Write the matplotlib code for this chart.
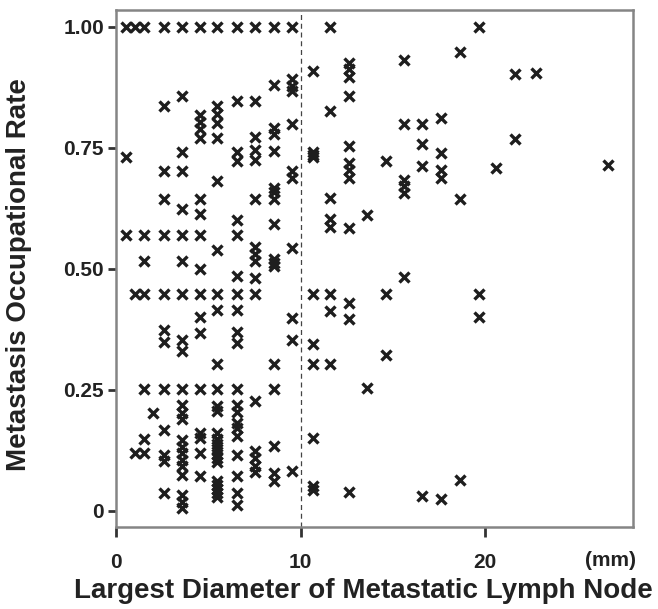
import numpy as np
import matplotlib
matplotlib.use("Agg")
import matplotlib.pyplot as plt
import matplotlib.transforms as mtransforms

plt.rcParams['font.family'] = ['Liberation Sans', 'DejaVu Sans']

# largest diameter (mm) of each column of points, and the rates read in that column
col_x = [0.55, 1.05, 1.5, 2.0, 2.6, 3.6, 4.55, 5.5, 6.55, 7.55, 8.55, 9.55,
         10.65, 11.6, 12.6, 13.6, 14.65, 15.6, 16.6, 17.6, 18.65, 19.65,
         20.6, 21.6, 22.75, 26.65]
col_rates = [
    [1.00, 0.731, 0.569],
    [1.00, 0.448, 0.119],
    [1.00, 0.569, 0.517, 0.448, 0.251, 0.148, 0.119],
    [0.203],
    [1.00, 0.836, 0.702, 0.645, 0.569, 0.448, 0.373, 0.348, 0.251, 0.167, 0.116, 0.102, 0.036],
    [1.00, 0.857, 0.742, 0.702, 0.623, 0.569, 0.517, 0.448, 0.352, 0.331, 0.251, 0.219,
     0.202, 0.189, 0.147, 0.132, 0.119, 0.105, 0.092, 0.074, 0.033, 0.019, 0.006],
    [1.00, 0.818, 0.803, 0.789, 0.771, 0.645, 0.614, 0.569, 0.500, 0.448, 0.400, 0.368,
     0.251, 0.160, 0.151, 0.119, 0.071],
    [1.00, 0.836, 0.819, 0.802, 0.771, 0.681, 0.538, 0.448, 0.414, 0.303, 0.251, 0.217,
     0.207, 0.161, 0.148, 0.137, 0.127, 0.118, 0.109, 0.101, 0.062, 0.053, 0.045, 0.037, 0.029],
    [1.00, 0.847, 0.742, 0.722, 0.600, 0.570, 0.486, 0.448, 0.414, 0.369, 0.347, 0.251,
     0.219, 0.205, 0.181, 0.171, 0.154, 0.116, 0.071, 0.036, 0.012],
    [1.00, 0.847, 0.772, 0.745, 0.724, 0.645, 0.545, 0.531, 0.515, 0.481, 0.448, 0.226,
     0.123, 0.109, 0.092, 0.081],
    [1.00, 0.880, 0.791, 0.778, 0.743, 0.667, 0.658, 0.645, 0.593, 0.520, 0.512, 0.505,
     0.303, 0.251, 0.133, 0.078, 0.061],
    [1.00, 0.892, 0.878, 0.867, 0.800, 0.702, 0.688, 0.543, 0.398, 0.352, 0.083],
    [0.909, 0.742, 0.735, 0.730, 0.448, 0.345, 0.303, 0.150, 0.052, 0.042],
    [1.00, 0.826, 0.646, 0.603, 0.586, 0.448, 0.412, 0.303],
    [0.926, 0.912, 0.897, 0.857, 0.753, 0.718, 0.703, 0.688, 0.584, 0.430, 0.397, 0.038],
    [0.610, 0.253],
    [0.722, 0.448, 0.321],
    [0.931, 0.800, 0.684, 0.671, 0.657, 0.483],
    [0.800, 0.757, 0.712, 0.030],
    [0.812, 0.740, 0.705, 0.688, 0.024],
    [0.947, 0.645, 0.064],
    [1.00, 0.448, 0.400],
    [0.709],
    [0.903, 0.767],
    [0.905],
    [0.715],
]

x_ticks = [0, 10, 20]
y_ticks = [0, 0.25, 0.50, 0.75, 1.00]
y_tick_labels = ["0", "0.25", "0.50", "0.75", "1.00"]
cutoff_mm = 10

xs = np.repeat(col_x, [len(r) for r in col_rates])
ys = np.concatenate([np.array(r) for r in col_rates])

fig = plt.figure(figsize=(6.58, 6.09), dpi=100)
ax = fig.add_axes([0.176, 0.135, 0.786, 0.849])

ax.plot(xs, ys, 'x', color='#1e1e1e', ms=7, mew=2.4, ls='none')
ax.axvline(cutoff_mm, color='#444444', lw=0.9, ls=(0, (4, 3)))

ax.set_xlim(0, 28)
ax.set_ylim(-0.033, 1.035)
ax.set_xticks(x_ticks)
ax.set_xticklabels([str(t) for t in x_ticks])
ax.set_yticks(y_ticks)
ax.set_yticklabels(y_tick_labels)

for s in ax.spines.values():
    s.set_color('#858585')
    s.set_linewidth(1.8)

ax.tick_params(axis='y', length=5.5, width=2, color='#333333', pad=3,
               labelsize=15)
ax.tick_params(axis='x', length=7, width=2, color='#333333', pad=12,
               labelsize=15)
for lab in ax.get_xticklabels() + ax.get_yticklabels():
    lab.set_fontweight('bold')
    lab.set_color('#222222')

trans = mtransforms.blended_transform_factory(ax.transData, ax.transAxes)
ax.text(26.8, -0.066, "(mm)", transform=trans, ha='center', va='center',
        fontsize=15, fontweight='bold', color='#222222')

ax.set_xlabel("Largest Diameter of Metastatic Lymph Node", fontsize=20,
              fontweight='bold', color='#222222')
ax.set_ylabel("Metastasis Occupational Rate", fontsize=20,
              fontweight='bold', color='#222222')
ax.xaxis.set_label_coords(0.478, -0.1)
ax.yaxis.set_label_coords(-0.163, 0.488)

fig.savefig("out.png", dpi=100)
